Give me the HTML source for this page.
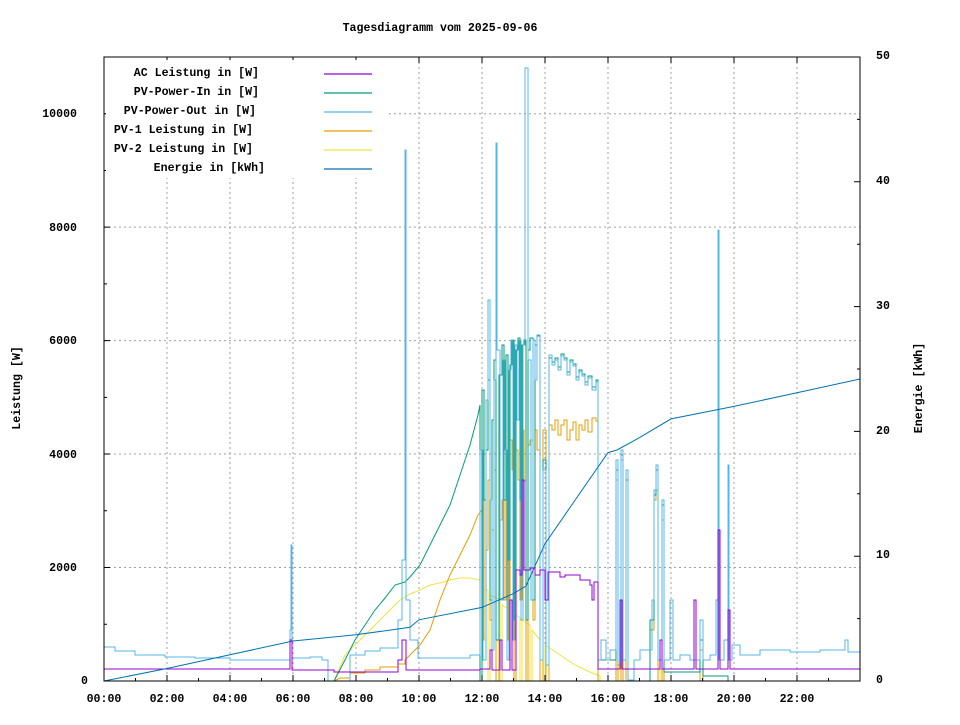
<!DOCTYPE html>
<html><head><meta charset="utf-8"><style>
body{margin:0;background:#fff}
svg text{font-family:"Liberation Mono","DejaVu Sans Mono",monospace;font-size:11.6px;font-weight:bold;fill:#000}
</style></head><body>
<svg width="960" height="720" xmlns="http://www.w3.org/2000/svg">
<rect width="960" height="720" fill="#fff"/>
<g stroke="#a0a0a0" stroke-dasharray="2,3" stroke-width="1">
<path d="M167 57V681M230 57V681M293 57V681M356 57V681M419 57V681M482 57V681M545 57V681M608 57V681M671 57V681M734 57V681M797 57V681"/>
<path d="M104 567.5H860M104 454H860M104 340.6H860M104 227.1H860M104 113.7H860"/>
</g>
<g fill="none" stroke-width="1">
<path stroke="#f0e442" d="M334 681 L345 655 L360 640 L375 625 L390 610 L400 600 L410 594 L420 590 L430 585 L440 583 L450 580 L460 578 L470 578 L480 580 V681 H482 V600 H484 V640 H486 V590 H488 V681 H490 V595 L500 600 V681 H502 V605 L510 610 V660 H512 V612 L520 618 V681 H522 V620 L530 625 V681 H532 V630 L540 640 V681 H545 V645 L560 655 L575 665 L590 672 L600 676 V681 H616 V665 H618 V681 H660 V670 H662 V681 H860"/>
<path stroke="#e69f00" d="M334 681 L340 678 H350 V673 H365 V670 H380 V667 H398 V664 H405 V660 L420 645 L430 630 L440 600 L450 575 L460 555 L470 535 L478 515 L482 510 V640 H484 V500 H486 V550 H488 V480 H490 V620 H492 V530 H494 V470 H496 V681 H499 V520 H502 V500 H504 V600 H506 V460 H508 V640 H510 V440 H512 V470 H514 V681 H516 V450 H518 V480 H520 V600 H522 V430 H524 V481 H526 V681 H528 V445 H530 V440 H533 V620 H535 V430 H537 V450 H540 V681 H543 V430 H546 V681 H549 V425 H552 V430 H555 V420 H558 V435 H561 V425 H564 V420 H567 V440 H570 V430 H573 V422 H576 V440 H579 V425 H582 V430 H585 V420 H588 V432 H592 V418 H596 V421 H598 V681 H616 V480 H618 V681 H621 V460 H623 V681 H626 V470 H628 V681 H650 V630 H654 V500 H656 V490 H658 V681 H662 V520 H664 V681 H700 V650 H703 V681 H860"/>
<path stroke="#009e73" d="M334 681 L345 660 L355 640 L365 625 L375 610 L385 598 L395 585 L405 582 L410 577 L420 565 L430 545 L440 525 L450 505 L460 475 L470 445 L478 415 L480 405 V681 H482 V390 H484 V500 H486 V450 H488 V380 H490 V600 H492 V420 H494 V360 H496 V640 H499 V375 H502 V345 H504 V500 H506 V355 H508 V560 H510 V365 H512 V340 H514 V620 H516 V350 H518 V338 H520 V500 H522 V345 H524 V340 H526 V620 H528 V350 H530 V338 H533 V600 H535 V345 H537 V336 H540 V660 H543 V460 H546 V665 H549 V358 H552 V362 H555 V358 H558 V367 H561 V354 H564 V358 H567 V372 H570 V360 H573 V364 H576 V377 H579 V370 H582 V374 H585 V382 H588 V376 H592 V387 H596 V380 H598 V660 H616 V470 H618 V665 H621 V455 H623 V660 H626 V480 H628 V681 H650 V620 H654 V495 H656 V470 H658 V660 H662 V505 H664 V672 H700 V640 H703 V676 H728 V681 H860"/>
<path stroke="#56b4e9" d="M104 647 H115 V651 H135 V655 H165 V657 H195 V658 H230 V660 H290 V630 H291 V545 H292 V658 H310 V657 H322 V660 H328 V681 H334 V681 H350 V655 H365 V651 H380 V648 H398 V620 H402 V560 H405 V150 H406 V600 H410 V640 H418 V658 H470 V655 H480 V450 H483 V660 H486 V400 H488 V300 H490 V500 H492 V650 H494 V380 H496 V143 H497 V350 H500 V600 H503 V360 H505 V450 H507 V660 H509 V370 H511 V340 H513 V640 H515 V345 H517 V420 H519 V340 H521 V620 H523 V345 H525 V68 H527 V68 H528 V360 H531 V600 H533 V340 H535 V380 H537 V335 H540 V660 H543 V470 H546 V665 H549 V355 H552 V365 H555 V360 H558 V370 H561 V356 H564 V360 H567 V375 H570 V362 H573 V366 H576 V380 H579 V372 H582 V376 H585 V385 H588 V378 H592 V390 H596 V382 H598 V660 H601 V640 H606 V660 H610 V650 H616 V460 H618 V665 H621 V450 H623 V660 H626 V470 H628 V680 H634 V660 H640 V650 H652 V600 H654 V490 H656 V465 H658 V660 H662 V500 H664 V660 H670 V600 H673 V660 H680 V655 H690 V660 H700 V620 H703 V660 H710 V655 H716 V600 H718 V230 H719 V660 H724 V640 H728 V465 H729 V660 H732 V645 H740 V655 H760 V650 H790 V652 H820 V650 H845 V640 H848 V652 H860"/>
<path stroke="#9400d3" d="M104 669 H290 V640 H292 V670 H334 V672 H398 V660 H402 V640 H406 V670 H480 V669 H490 V650 H492 V670 H500 V640 H502 V670 H510 V600 H512 V670 H516 V570 H520 V575 H522 V480 H524 V570 H530 V568 H535 V575 H540 V570 H545 V600 H548 V572 H560 V577 H565 V575 H580 V580 H590 V585 H592 V600 H594 V582 H598 V669 H620 V600 H622 V669 H660 V640 H662 V669 H694 V600 H696 V669 H718 V530 H720 V669 H728 V610 H730 V669 H860"/>
<path stroke="#0072b2" d="M104 681 L167 668.5 L230 654.8 L293 641 L356 634.8 L410 627.3 L419 619.8 L482 607.4 L513.5 593.6 L526 586 L545 543.7 L570 507.5 L608 452.6 L617 450 L639.5 437.6 L671 418.9 L734 406.4 L797 392.7 L860 379"/>
</g>
<rect x="104" y="57" width="756" height="624" fill="none" stroke="#000"/>
<g stroke="#000">
<path d="M167 681v-6M230 681v-6M293 681v-6M356 681v-6M419 681v-6M482 681v-6M545 681v-6M608 681v-6M671 681v-6M734 681v-6M797 681v-6"/>
<path d="M135.5 681v-3M198.5 681v-3M261.5 681v-3M324.5 681v-3M387.5 681v-3M450.5 681v-3M513.5 681v-3M576.5 681v-3M639.5 681v-3M702.5 681v-3M765.5 681v-3M828.5 681v-3"/>
<path d="M167 57v6M230 57v6M293 57v6M356 57v6M419 57v6M482 57v6M545 57v6M608 57v6M671 57v6M734 57v6M797 57v6"/>
<path d="M104 567.5h6M104 454h6M104 340.6h6M104 227.1h6M104 113.7h6M104 624.2h3M104 510.8h3M104 397.4h3M104 283.9h3M104 170.5h3M104 57h3"/>
<path d="M860 556.2h-6M860 431.4h-6M860 306.6h-6M860 181.8h-6M860 618.6h-3M860 493.8h-3M860 369h-3M860 244.2h-3M860 119.4h-3"/>
</g>
<text x="440" y="31" text-anchor="middle">Tagesdiagramm vom 2025-09-06</text>
<text transform="translate(20,388) rotate(-90)" text-anchor="middle">Leistung [W]</text>
<text transform="translate(922,388) rotate(-90)" text-anchor="middle">Energie [kWh]</text>
<g text-anchor="middle">
<text x="104" y="702">00:00</text><text x="167" y="702">02:00</text><text x="230" y="702">04:00</text><text x="293" y="702">06:00</text><text x="356" y="702">08:00</text><text x="419" y="702">10:00</text><text x="482" y="702">12:00</text><text x="545" y="702">14:00</text><text x="608" y="702">16:00</text><text x="671" y="702">18:00</text><text x="734" y="702">20:00</text><text x="797" y="702">22:00</text>
</g>
<g text-anchor="end">
<text x="88" y="684">0</text><text x="77" y="571">2000</text><text x="77" y="458">4000</text><text x="77" y="344">6000</text><text x="77" y="231">8000</text><text x="77" y="117">10000</text>
</g>
<g>
<text x="876" y="683">0</text><text x="876" y="558">10</text><text x="876" y="434">20</text><text x="876" y="309">30</text><text x="876" y="184">40</text><text x="876" y="59">50</text>
</g>
<rect x="106" y="60" width="280" height="118" fill="#fff"/>
<g text-anchor="end">
<text x="259" y="76">AC Leistung in [W]</text>
<text x="259" y="95">PV-Power-In in [W]</text>
<text x="256" y="114">PV-Power-Out in [W]</text>
<text x="253" y="133">PV-1 Leistung in [W]</text>
<text x="253" y="152">PV-2 Leistung in [W]</text>
<text x="265" y="171">Energie in [kWh]</text>
</g>
<g stroke-width="1.3">
<line x1="324" x2="372" y1="74" y2="74" stroke="#9400d3"/>
<line x1="324" x2="372" y1="93" y2="93" stroke="#009e73"/>
<line x1="324" x2="372" y1="112" y2="112" stroke="#56b4e9"/>
<line x1="324" x2="372" y1="131" y2="131" stroke="#e69f00"/>
<line x1="324" x2="372" y1="150" y2="150" stroke="#f0e442"/>
<line x1="324" x2="372" y1="169" y2="169" stroke="#0072b2"/>
</g>
</svg>
</body></html>
